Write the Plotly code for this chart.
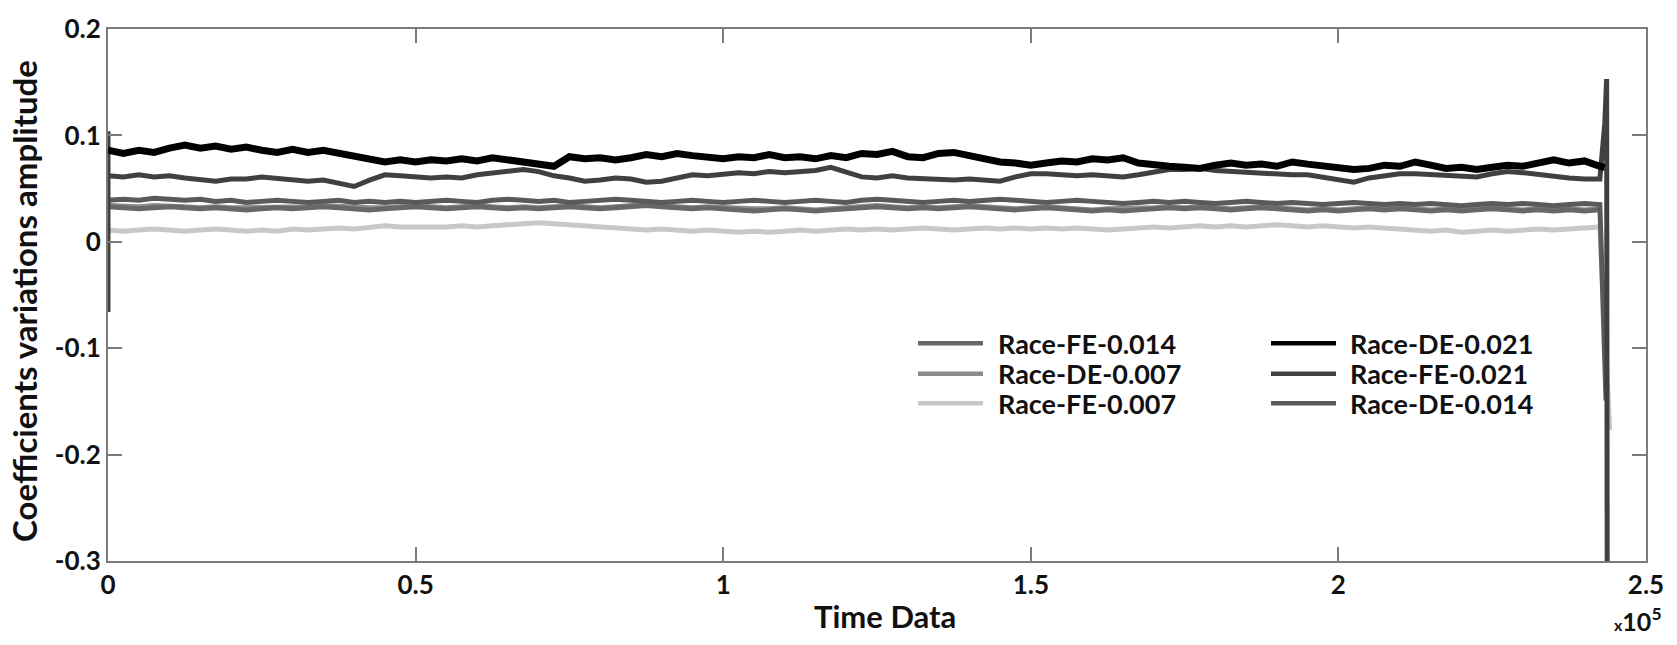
import plotly.graph_objects as go

# ---------------------------------------------------------------------------
# Sample times (time-data index) shared by all six coefficient series
# ---------------------------------------------------------------------------
TIME = [
    0, 2500, 5000, 7500, 10000, 12500, 15000, 17500, 20000, 22500,
    25000, 27500, 30000, 32500, 35000, 37500, 40000, 42500, 45000, 47500,
    50000, 52500, 55000, 57500, 60000, 62500, 65000, 67500, 70000, 72500,
    75000, 77500, 80000, 82500, 85000, 87500, 90000, 92500, 95000, 97500,
    100000, 102500, 105000, 107500, 110000, 112500, 115000, 117500, 120000, 122500,
    125000, 127500, 130000, 132500, 135000, 137500, 140000, 142500, 145000, 147500,
    150000, 152500, 155000, 157500, 160000, 162500, 165000, 167500, 170000, 172500,
    175000, 177500, 180000, 182500, 185000, 187500, 190000, 192500, 195000, 197500,
    200000, 202500, 205000, 207500, 210000, 212500, 215000, 217500, 220000, 222500,
    225000, 227500, 230000, 232500, 235000, 237500, 240000, 242500,
]

# Coefficient variation amplitude of each series
RACE_FE_0014 = [
    0.033, 0.032, 0.031, 0.032, 0.033, 0.032, 0.031, 0.032, 0.031, 0.030,
    0.031, 0.032, 0.031, 0.032, 0.033, 0.032, 0.031, 0.030, 0.031, 0.032,
    0.033, 0.032, 0.031, 0.032, 0.033, 0.032, 0.031, 0.032, 0.031, 0.032,
    0.033, 0.032, 0.031, 0.032, 0.033, 0.034, 0.033, 0.032, 0.031, 0.032,
    0.031, 0.030, 0.029, 0.030, 0.031, 0.030, 0.029, 0.030, 0.031, 0.032,
    0.033, 0.032, 0.031, 0.032, 0.031, 0.032, 0.033, 0.032, 0.031, 0.030,
    0.031, 0.032, 0.031, 0.030, 0.029, 0.030, 0.029, 0.030, 0.031, 0.032,
    0.031, 0.032, 0.031, 0.030, 0.031, 0.032, 0.031, 0.030, 0.029, 0.030,
    0.029, 0.030, 0.031, 0.030, 0.031, 0.030, 0.029, 0.030, 0.029, 0.030,
    0.031, 0.030, 0.029, 0.030, 0.029, 0.030, 0.029, 0.030,
]
RACE_DE_0007 = [
    0.034, 0.033, 0.033, 0.034, 0.034, 0.033, 0.032, 0.033, 0.032, 0.032,
    0.033, 0.033, 0.032, 0.033, 0.034, 0.033, 0.032, 0.032, 0.032, 0.033,
    0.034, 0.033, 0.032, 0.033, 0.034, 0.033, 0.032, 0.033, 0.032, 0.033,
    0.034, 0.033, 0.032, 0.033, 0.034, 0.035, 0.034, 0.033, 0.032, 0.033,
    0.032, 0.031, 0.031, 0.031, 0.032, 0.031, 0.030, 0.031, 0.032, 0.033,
    0.034, 0.033, 0.032, 0.033, 0.032, 0.033, 0.034, 0.033, 0.032, 0.031,
    0.032, 0.033, 0.032, 0.031, 0.030, 0.031, 0.031, 0.031, 0.032, 0.033,
    0.032, 0.033, 0.032, 0.031, 0.032, 0.033, 0.032, 0.031, 0.030, 0.031,
    0.030, 0.031, 0.032, 0.031, 0.032, 0.031, 0.030, 0.031, 0.030, 0.031,
    0.032, 0.031, 0.030, 0.031, 0.030, 0.031, 0.030, 0.031,
]
RACE_FE_0007 = [
    0.011, 0.010, 0.011, 0.012, 0.011, 0.010, 0.011, 0.012, 0.011, 0.010,
    0.011, 0.010, 0.012, 0.011, 0.012, 0.013, 0.012, 0.014, 0.015, 0.014,
    0.014, 0.013, 0.014, 0.015, 0.014, 0.015, 0.016, 0.017, 0.018, 0.017,
    0.016, 0.015, 0.014, 0.013, 0.012, 0.011, 0.012, 0.011, 0.010, 0.011,
    0.010, 0.009, 0.010, 0.009, 0.010, 0.011, 0.010, 0.011, 0.012, 0.011,
    0.012, 0.011, 0.012, 0.013, 0.012, 0.011, 0.012, 0.013, 0.012, 0.013,
    0.012, 0.013, 0.012, 0.013, 0.012, 0.011, 0.012, 0.013, 0.014, 0.013,
    0.014, 0.015, 0.014, 0.015, 0.014, 0.015, 0.016, 0.015, 0.014, 0.015,
    0.014, 0.013, 0.014, 0.013, 0.012, 0.011, 0.010, 0.011, 0.009, 0.010,
    0.011, 0.010, 0.011, 0.012, 0.011, 0.012, 0.013, 0.014,
]
RACE_DE_0021 = [
    0.086, 0.083, 0.086, 0.084, 0.088, 0.091, 0.088, 0.090, 0.087, 0.089,
    0.086, 0.084, 0.087, 0.084, 0.086, 0.083, 0.081, 0.077, 0.075, 0.077,
    0.075, 0.077, 0.076, 0.078, 0.076, 0.079, 0.077, 0.075, 0.074, 0.071,
    0.080, 0.078, 0.079, 0.077, 0.079, 0.082, 0.080, 0.083, 0.081, 0.079,
    0.078, 0.080, 0.079, 0.082, 0.079, 0.080, 0.078, 0.081, 0.079, 0.083,
    0.082, 0.085, 0.080, 0.079, 0.083, 0.084, 0.081, 0.078, 0.075, 0.074,
    0.072, 0.074, 0.076, 0.075, 0.078, 0.077, 0.079, 0.074, 0.072, 0.071,
    0.070, 0.069, 0.072, 0.074, 0.072, 0.073, 0.071, 0.075, 0.073, 0.071,
    0.070, 0.068, 0.069, 0.072, 0.071, 0.075, 0.072, 0.069, 0.070, 0.068,
    0.070, 0.072, 0.071, 0.074, 0.077, 0.074, 0.076, 0.071,
]
RACE_FE_0021 = [
    0.062, 0.061, 0.063, 0.061, 0.062, 0.060, 0.058, 0.057, 0.059, 0.059,
    0.061, 0.060, 0.058, 0.057, 0.058, 0.055, 0.052, 0.058, 0.063, 0.062,
    0.061, 0.060, 0.061, 0.060, 0.063, 0.065, 0.067, 0.068, 0.066, 0.062,
    0.060, 0.057, 0.058, 0.060, 0.059, 0.056, 0.057, 0.060, 0.063, 0.062,
    0.064, 0.065, 0.064, 0.066, 0.065, 0.066, 0.067, 0.070, 0.066, 0.061,
    0.060, 0.062, 0.060, 0.059, 0.059, 0.058, 0.059, 0.058, 0.057, 0.061,
    0.064, 0.064, 0.063, 0.062, 0.063, 0.062, 0.061, 0.063, 0.066, 0.068,
    0.068, 0.069, 0.067, 0.066, 0.065, 0.065, 0.064, 0.063, 0.063, 0.061,
    0.059, 0.056, 0.060, 0.062, 0.064, 0.064, 0.063, 0.063, 0.062, 0.061,
    0.064, 0.066, 0.065, 0.063, 0.062, 0.060, 0.059, 0.059,
]
RACE_DE_0014 = [
    0.039, 0.040, 0.039, 0.041, 0.040, 0.039, 0.040, 0.038, 0.039, 0.037,
    0.038, 0.039, 0.038, 0.037, 0.038, 0.039, 0.037, 0.038, 0.037, 0.038,
    0.037, 0.038, 0.039, 0.038, 0.037, 0.039, 0.040, 0.039, 0.038, 0.039,
    0.037, 0.038, 0.039, 0.040, 0.039, 0.038, 0.037, 0.038, 0.039, 0.038,
    0.037, 0.038, 0.039, 0.038, 0.037, 0.038, 0.039, 0.038, 0.037, 0.039,
    0.040, 0.039, 0.038, 0.037, 0.038, 0.039, 0.038, 0.039, 0.040, 0.039,
    0.038, 0.037, 0.038, 0.039, 0.038, 0.037, 0.036, 0.037, 0.038, 0.037,
    0.038, 0.037, 0.036, 0.037, 0.038, 0.037, 0.036, 0.037, 0.036, 0.035,
    0.036, 0.037, 0.036, 0.035, 0.036, 0.035, 0.036, 0.035, 0.034, 0.035,
    0.036, 0.035, 0.036, 0.035, 0.034, 0.035, 0.036, 0.035,
]

# Start-up transient and end-of-record excursions
FE_0021_HEAD_T = [0, 0]
FE_0021_HEAD_V = [-0.066, 0.104]
FE_0021_TAIL_T = [243300, 243600, 243700]
FE_0021_TAIL_V = [0.111, 0.153, -0.35]
DE_0014_TAIL_T = [243500]
DE_0014_TAIL_V = [-0.149]
FE_0007_TAIL_T = [244100]
FE_0007_TAIL_V = [-0.177]
DE_0021_TAIL_T = [243300]
DE_0021_TAIL_V = [0.070]

# Axis ticks
X_TICKS = [0, 50000, 100000, 150000, 200000, 250000]
X_TICK_TEXT = ["0", "0.5", "1", "1.5", "2", "2.5"]
Y_TICKS = [-0.3, -0.2, -0.1, 0, 0.1, 0.2]
Y_TICK_TEXT = ["-0.3", "-0.2", "-0.1", "0", "0.1", "0.2"]

# Series in legend order: (name, colour, line width, times, values)
SERIES = [
    ("Race-FE-0.014", "#686868", 5, TIME, RACE_FE_0014),
    ("Race-DE-0.007", "#8c8c8c", 5, TIME, RACE_DE_0007),
    ("Race-FE-0.007", "#c8c8c8", 5, TIME + FE_0007_TAIL_T, RACE_FE_0007 + FE_0007_TAIL_V),
    ("Race-DE-0.021", "#000000", 7, TIME + DE_0021_TAIL_T, RACE_DE_0021 + DE_0021_TAIL_V),
    ("Race-FE-0.021", "#404040", 5,
     FE_0021_HEAD_T + TIME + FE_0021_TAIL_T, FE_0021_HEAD_V + RACE_FE_0021 + FE_0021_TAIL_V),
    ("Race-DE-0.014", "#5a5a5a", 5, TIME + DE_0014_TAIL_T, RACE_DE_0014 + DE_0014_TAIL_V),
]
# drawing order (bottom to top)
DRAW_ORDER = [1, 2, 0, 5, 4, 3]

W, H = 1677, 645
L, R, T, B = 108, 31, 21, 84
PW, PH = W - L - R, H - T - B

FONT = "Lato, 'Open Sans', sans-serif"


def px(x):
    return (x - L) / PW


def py(y):
    return 1 - (y - T) / PH


fig = go.Figure()
for i in DRAW_ORDER:
    name, color, width, t, v = SERIES[i]
    fig.add_trace(go.Scatter(
        x=t, y=v, mode="lines", name=name, showlegend=False,
        line=dict(color=color, width=width),
    ))

# Two-column legend
shapes = []
annotations = []
legend_cols = [(918, 983, 996), (1271, 1336, 1348)]
legend_rows = [340, 371, 401]
for i, (name, color, width, _, _) in enumerate(SERIES):
    x0, x1, xt = legend_cols[i // 3]
    yr = legend_rows[i % 3]
    shapes.append(dict(type="line", xref="paper", yref="paper",
                       x0=px(x0), x1=px(x1), y0=py(yr), y1=py(yr),
                       line=dict(color=color, width=4.5)))
    annotations.append(dict(text=name, xref="paper", yref="paper",
                            x=px(xt), y=py(yr), xanchor="left", yanchor="middle",
                            showarrow=False,
                            font=dict(family=FONT, size=27, color="#111", weight="bold")))

# Axis titles and exponent label
annotations.append(dict(text="Time Data", xref="paper", yref="paper",
                        x=px(885), y=py(617), xanchor="center", yanchor="middle",
                        showarrow=False,
                        font=dict(family=FONT, size=31, color="#111", weight="bold")))
annotations.append(dict(text="Coefficients variations amplitude", xref="paper", yref="paper",
                        x=px(24), y=py(297), xanchor="center", yanchor="middle",
                        textangle=-90, showarrow=False,
                        font=dict(family=FONT, size=33, color="#111", weight="bold")))
annotations.append(dict(text="<span style='font-size:16px'>x</span>10<sup>5</sup>",
                        xref="paper", yref="paper",
                        x=px(1664), y=py(620), xanchor="right", yanchor="middle",
                        showarrow=False,
                        font=dict(family=FONT, size=25, color="#111", weight="bold")))

axis_common = dict(
    showgrid=False, zeroline=False, showline=True, linecolor="#7a7a7a", linewidth=2,
    mirror="ticks", ticks="inside", ticklen=14, tickwidth=2, tickcolor="#7a7a7a",
    tickfont=dict(family=FONT, size=26, color="#111", weight="bold"),
)

fig.update_layout(
    width=W, height=H,
    margin=dict(l=L, r=R, t=T, b=B),
    paper_bgcolor="white", plot_bgcolor="white",
    showlegend=False,
    shapes=shapes, annotations=annotations,
    xaxis=dict(range=[0, 250000], tickvals=X_TICKS, ticktext=X_TICK_TEXT, **axis_common),
    yaxis=dict(range=[-0.3, 0.2], tickvals=Y_TICKS, ticktext=Y_TICK_TEXT, **axis_common),
)

fig.write_html("out.html")
